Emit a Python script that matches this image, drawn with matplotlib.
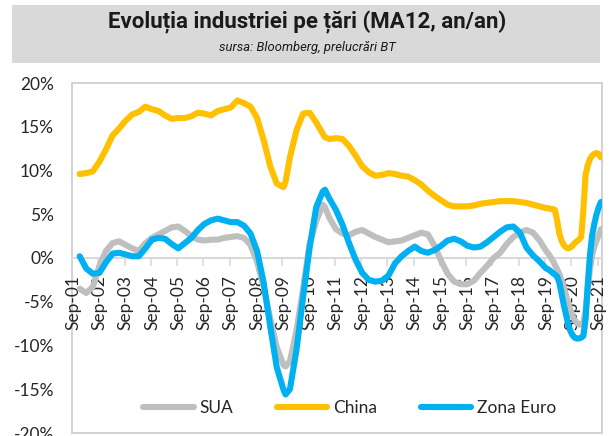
import matplotlib
matplotlib.use("Agg")
import matplotlib.pyplot as plt
from matplotlib.patches import Rectangle

# ---- data (month index 0 = Sep-2001) ----
obs_month = [3, 6, 9, 12, 15, 18, 21, 24, 27, 30, 33, 36, 39, 42, 45, 48, 51, 54, 57, 60,
             63, 66, 69, 72, 75, 78, 81, 84, 87, 90, 93, 96, 97, 99, 102, 105, 108, 111, 114, 115,
             117, 120, 123, 126, 129, 132, 135, 138, 141, 144, 147, 150, 153, 156, 159, 162, 165, 168, 171, 174,
             177, 180, 183, 186, 189, 192, 195, 198, 201, 204, 207, 210, 213, 216, 217, 218, 219, 220, 221, 222,
             223, 224, 225, 226, 227, 228, 229, 230, 231, 232, 233, 234, 235, 236, 237, 238, 239, 240, 241]

china = [9.6, 9.7, 9.9, 11.0, 12.4, 14.0, 14.8, 15.7, 16.4, 16.7, 17.3, 17.0, 16.8, 16.3, 15.9, 16.0, 16.0, 16.2, 16.6, 16.5,
         16.3, 16.8, 17.0, 17.2, 18.0, 17.7, 17.3, 16.0, 13.5, 10.5, 8.5, 8.1, 8.7, 11.5, 14.6, 16.5, 16.6, 15.5, 14.2, 13.8,
         13.6, 13.7, 13.6, 12.8, 11.7, 10.5, 9.8, 9.4, 9.5, 9.7, 9.6, 9.4, 9.3, 8.9, 8.4, 7.7, 7.1, 6.6, 6.1, 5.9,
         5.9, 5.9, 6.0, 6.2, 6.3, 6.4, 6.5, 6.5, 6.5, 6.4, 6.3, 6.1, 5.9, 5.7, 5.7, 5.6, 5.6, 5.5, 4.3, 2.8,
         2.0, 1.5, 1.2, 1.1, 1.2, 1.4, 1.7, 1.9, 2.1, 2.4, 5.5, 9.5, 10.6, 11.3, 11.7, 11.9, 12.0, 11.9, 11.5]

zona_euro = [0.2, -1.2, -1.8, -1.7, -0.5, 0.5, 0.6, 0.4, 0.2, 0.2, 1.1, 2.1, 2.3, 2.2, 1.6, 1.1, 1.7, 2.3, 3.2, 3.9,
             4.3, 4.5, 4.3, 4.1, 4.1, 3.7, 2.8, 0.8, -2.8, -7.8, -12.5, -15.0, -15.6, -15.0, -10.5, -4.5, 1.2, 5.8, 7.6, 7.8,
             6.8, 5.5, 3.8, 1.7, -0.2, -1.7, -2.5, -2.7, -2.6, -2.0, -0.6, 0.2, 0.8, 1.3, 0.8, 0.6, 0.9, 1.4, 2.0, 2.2,
             1.9, 1.4, 1.2, 1.3, 1.8, 2.4, 3.0, 3.5, 3.6, 2.9, 1.2, 0.3, -0.4, -1.2, -1.3, -1.5, -1.7, -1.9, -2.1, -2.8,
             -4.0, -5.3, -6.4, -7.5, -8.3, -8.8, -9.1, -9.2, -9.2, -9.1, -8.9, -7.0, -3.0, 0.3, 2.6, 3.9, 5.0, 5.8, 6.4]

sua = [-3.5, -4.0, -3.3, -0.9, 0.8, 1.7, 1.9, 1.5, 1.1, 0.8, 1.7, 2.3, 2.7, 3.1, 3.5, 3.6, 3.1, 2.5, 2.1, 2.0,
       2.1, 2.1, 2.3, 2.4, 2.5, 2.3, 1.5, -0.4, -3.3, -6.9, -10.2, -12.2, -12.4, -11.8, -8.3, -3.5, 1.6, 4.2, 6.1, 5.8,
       4.6, 3.3, 2.8, 2.6, 3.0, 3.2, 2.8, 2.4, 2.1, 1.8, 1.9, 2.0, 2.3, 2.6, 2.9, 2.7, 1.4, -0.3, -1.8, -2.7,
       -3.0, -3.0, -2.6, -1.7, -0.9, 0.0, 0.6, 1.6, 2.4, 2.9, 3.2, 2.9, 2.0, 0.8, 0.5, 0.1, -0.3, -0.8, -1.3, -1.8,
       -2.5, -3.3, -4.2, -5.1, -5.9, -6.6, -7.1, -7.4, -7.6, -7.6, -7.4, -6.0, -3.5, -1.3, 0.3, 1.3, 2.0, 2.6, 3.3]

n_months = 242
tick_months = [0, 12, 24, 36, 48, 60, 72, 84, 96, 108, 120, 132, 144, 156, 168, 180, 192, 204, 216, 228, 240]
tick_labels = ["Sep-01", "Sep-02", "Sep-03", "Sep-04", "Sep-05", "Sep-06", "Sep-07", "Sep-08", "Sep-09", "Sep-10",
               "Sep-11", "Sep-12", "Sep-13", "Sep-14", "Sep-15", "Sep-16", "Sep-17", "Sep-18", "Sep-19", "Sep-20", "Sep-21"]
y_ticks = [-20, -15, -10, -5, 0, 5, 10, 15, 20]
y_labels = ["-20%", "-15%", "-10%", "-5%", "0%", "5%", "10%", "15%", "20%"]

series_names = ["SUA", "China", "Zona Euro"]
series_colors = ["#BFBFBF", "#FFC000", "#00B0F0"]

title = "Evoluția industriei pe țări (MA12, an/an)"
subtitle = "sursa: Bloomberg, prelucrări BT"

# ---- figure ----
W, H = 614, 436
fig = plt.figure(figsize=(W / 100, H / 100), dpi=100)
fig.patch.set_facecolor("white")
txt_color = "#262626"
base_font = ["Lato", "DejaVu Sans"]
fs = 12.5

# title box
fig.patches.append(Rectangle((12 / W, 1 - 63 / H), 588 / W, 58 / H, transform=fig.transFigure,
                             facecolor="#D9D9D9", edgecolor="none", zorder=0))
fig.text(0.5, 1 - 22 / H, title, ha="center", va="center", fontsize=16, fontweight="bold",
         family=["Roboto", "DejaVu Sans"], color="#1a1a1a")
fig.text(0.5, 1 - 47 / H, subtitle, ha="center", va="center", fontsize=9.4, style="italic",
         family=["Roboto", "DejaVu Sans"], color="#1a1a1a")

ax = fig.add_axes([72 / W, 1 - 433 / H, 530 / W, 350 / H])
ax.set_xlim(-0.5, n_months - 0.5)
ax.set_ylim(-20, 20)

data = [sua, china, zona_euro]
lines = []
for name, vals, col in zip(series_names, data, series_colors):
    ln, = ax.plot(obs_month, vals, color=col, lw=4.4, solid_capstyle="round",
                  solid_joinstyle="round", label=name)
    lines.append(ln)

for s in ["left", "right", "top"]:
    ax.spines[s].set_visible(False)
ax.spines["bottom"].set_position(("data", 0))
ax.spines["bottom"].set_color("#D9D9D9")
ax.spines["bottom"].set_linewidth(1.5)
ax.spines["bottom"].set_zorder(0.5)

ax.add_patch(Rectangle((0, 0), 1, 1, transform=ax.transAxes, fill=False,
                       edgecolor="#CFCFCF", lw=1.3, clip_on=False, zorder=0.4))

ax.set_xticks(tick_months)
ax.set_xticklabels(tick_labels, rotation=90, fontsize=fs, family=base_font, color=txt_color)
ax.set_xticks([m - 0.5 for m in tick_months], minor=True)
ax.tick_params(axis="x", which="major", length=0, pad=12)
ax.tick_params(axis="x", which="minor", length=6, width=1.2, color="#D9D9D9", direction="out")

ax.set_yticks(y_ticks)
ax.set_yticklabels(y_labels, fontsize=fs, family=base_font, color=txt_color)
ax.tick_params(axis="y", length=0, pad=13)

leg = fig.legend(lines, series_names, loc="center", bbox_to_anchor=(350 / W, 1 - 408 / H),
                 ncol=3, frameon=False, handlelength=2.9, handletextpad=0.35, columnspacing=2.5,
                 prop={"family": base_font, "size": fs})
for t in leg.get_texts():
    t.set_color(txt_color)

fig.savefig("out.png", dpi=100, facecolor="white")
